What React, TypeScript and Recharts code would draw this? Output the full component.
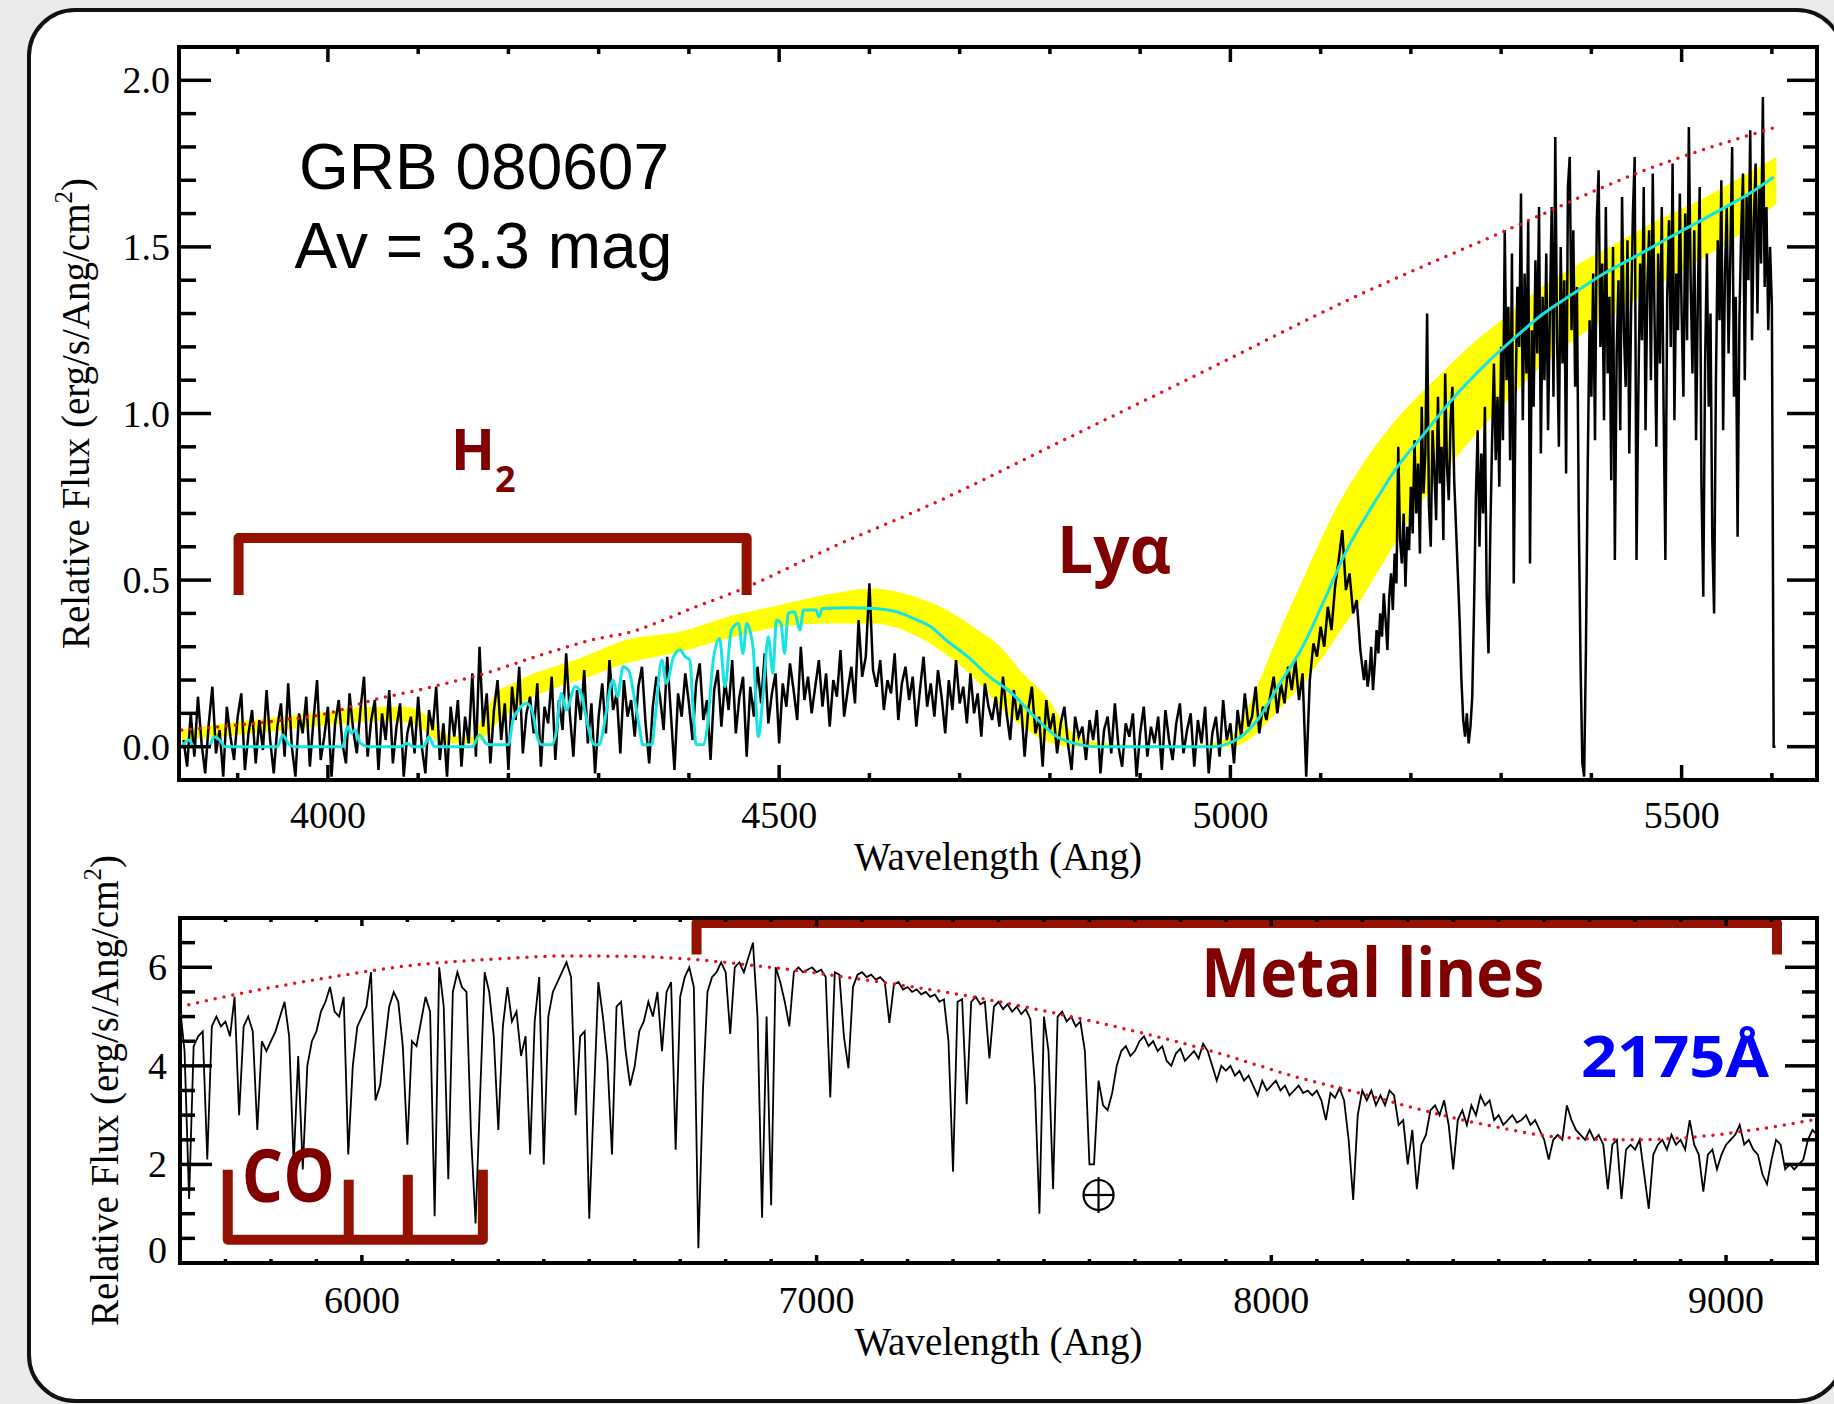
import React from 'react';
import { ComposedChart, Line, Area, XAxis, YAxis, ReferenceDot } from 'recharts';

const SERIF = '"Liberation Serif", "Times New Roman", serif';
const SANS = '"Liberation Sans", Arial, sans-serif';
const BOLD_SANS = '"Open Sans", "Noto Sans", sans-serif';
const DARK_RED = '#800000';
const BRACKET_RED = '#941100';

// ---------- upper panel: observed spectrum around Ly-alpha ----------
// blue part, 4 Å sampling (3840–5148 Å)
const TOP_START = 3840;
const TOP_STEP = 4;
const topFlux = [
  0.02, -0.06, 0.10, -0.03, 0.15, 0.01, -0.08, 0.07, 0.18, -0.02, 0.05, -0.09, 0.12, 0.03, -0.04, 0.09, 0.16, -0.07, 0.04, 0.11, -0.05, 0.08, -0.01, 0.17, 0.02,
  -0.08, 0.06, 0.13, -0.03, 0.19, 0.00, -0.09, 0.10, 0.04, 0.15, -0.06, 0.08, 0.20, -0.04, 0.03, 0.12, -0.09, 0.07, 0.14, 0.01, -0.05, 0.16, 0.05, -0.02, 0.11,
  0.21, -0.03, 0.08, 0.14, -0.07, 0.10, 0.02, 0.17, -0.05, 0.06, 0.13, -0.09, 0.04, 0.09, -0.02, 0.15, 0.00, -0.08, 0.11, 0.05, 0.18, -0.04, 0.07, -0.09, 0.12,
  0.03, 0.14, -0.06, 0.09, 0.01, 0.22, -0.03, 0.30, 0.06, 0.16, -0.05, 0.11, 0.20, 0.02, 0.13, -0.07, 0.18, 0.08, 0.24, -0.02, 0.10, 0.15, 0.04, 0.19, -0.06,
  0.12, 0.07, 0.21, -0.04, 0.14, 0.05, 0.28, 0.10, -0.03, 0.17, 0.08, 0.23, 0.01, 0.13, -0.08, 0.09, 0.19, 0.04, 0.26, 0.11, 0.16, -0.02, 0.20, 0.09, 0.14,
  0.03, 0.18, 0.24, 0.07, -0.05, 0.12, 0.21, 0.15, 0.05, 0.27, 0.10, -0.07, 0.16, 0.09, 0.22, 0.13, 0.02, 0.19, 0.25, 0.08, 0.14, -0.04, 0.17, 0.23, 0.06,
  0.20, 0.11, 0.26, 0.04, 0.15, 0.21, -0.03, 0.18, 0.09, 0.24, 0.13, 0.28, 0.07, 0.16, 0.22, 0.01, 0.19, 0.12, 0.25, 0.17, 0.08, 0.30, 0.14, 0.21, 0.10,
  0.18, 0.26, 0.12, 0.22, 0.06, 0.20, 0.15, 0.29, 0.09, 0.17, 0.24, 0.13, 0.38, 0.21, 0.27, 0.49, 0.23, 0.18, 0.26, 0.11, 0.20, 0.16, 0.28, 0.08, 0.19,
  0.24, 0.14, 0.21, 0.06, 0.17, 0.27, 0.12, 0.19, 0.09, 0.23, 0.15, 0.04, 0.20, 0.11, 0.26, 0.13, 0.18, 0.07, 0.22, 0.10, 0.16, 0.03, 0.19, 0.12, 0.08,
  0.15, 0.06, 0.21, 0.10, 0.02, 0.17, 0.08, 0.13, -0.03, 0.11, 0.18, 0.04, 0.09, -0.06, 0.14, 0.05, 0.10, -0.02, 0.07, 0.12, 0.01, -0.07, 0.09, 0.03, 0.06,
  -0.04, 0.08, 0.02, 0.11, -0.08, 0.05, 0.09, -0.02, 0.13, 0.00, -0.06, 0.07, 0.03, 0.10, -0.09, 0.04, 0.12, -0.03, 0.06, 0.01, 0.09, -0.07, 0.11, 0.02, -0.04,
  0.07, 0.13, -0.02, 0.05, 0.10, -0.06, 0.08, 0.01, 0.12, -0.08, 0.04, 0.09, -0.03, 0.14, 0.02, 0.07, -0.05, 0.11, 0.03, 0.16, 0.06, 0.09, 0.18, 0.04, 0.12,
  0.08, 0.15, 0.21, 0.10, 0.19, 0.13, 0.24, 0.17, 0.26, 0.14, 0.22, -0.09, 0.20, 0.31, 0.27, 0.36, 0.30, 0.42, 0.35, 0.48, 0.56, 0.65, 0.47, 0.52, 0.40,
  0.44, 0.29, 0.20,
];
// red part, 2 Å sampling (5150–5604 Å)
const TOP_FINE_START = 5150;
const TOP_FINE_STEP = 2;
const topFluxFine = [
  0.26, 0.18, 0.22, 0.30, 0.17, 0.25, 0.35, 0.28, 0.40, 0.33, 0.46, 0.38, 0.29, 0.45, 0.52, 0.41, 0.58, 0.49, 0.90, 0.62, 0.55, 0.70, 0.48, 0.66, 0.59,
  0.78, 0.64, 0.92, 0.70, 0.85, 0.58, 1.02, 0.76, 0.88, 1.30, 0.72, 0.60, 0.95, 0.83, 0.68, 1.05, 0.79, 0.90, 0.62, 1.12, 0.84, 0.74, 0.98, 1.08, 0.80,
  0.66, 0.52, 0.38, 0.20, 0.08, 0.03, 0.10, 0.01, 0.06, 0.15, 0.42, 0.75, 0.95, 0.60, 0.88, 0.70, 1.02, 0.45, 0.28, 0.64, 0.92, 1.15, 0.86, 1.05, 0.78,
  1.20, 0.92, 1.55, 1.10, 1.32, 0.86, 1.48, 0.49, 1.05, 1.38, 1.20, 1.66, 0.98, 1.42, 1.12, 1.58, 0.55, 1.25, 1.02, 1.46, 1.18, 1.62, 0.88, 1.35, 1.10,
  1.48, 0.95, 1.30, 1.62, 1.05, 1.83, 1.22, 0.90, 1.50, 1.15, 1.40, 0.82, 1.68, 1.77, 1.25, 1.55, 1.08, 1.38, 0.70, 0.25, -0.05, -0.09, 0.30, 0.85, 1.28,
  1.05, 1.42, 0.92, 1.58, 1.73, 1.20, 1.45, 0.98, 1.62, 1.12, 1.35, 0.80, 1.50, 0.56, 1.18, 1.40, 0.95, 1.65, 1.25, 1.08, 1.52, 0.88, 1.30, 1.60, 1.77,
  0.56, 1.05, 1.45, 1.22, 1.68, 0.95, 1.38, 1.55, 1.10, 1.72, 1.28, 0.90, 1.48, 1.15, 1.62, 1.02, 0.56, 1.35, 1.58, 1.20, 1.75, 0.98, 1.42, 1.25, 1.66,
  1.30, 1.05, 1.60, 1.22, 1.86, 1.40, 1.12, 1.55, 0.92, 1.35, 1.68, 0.78, 0.45, 1.15, 1.48, 1.02, 1.30, 0.62, 0.40, 1.10, 1.52, 1.28, 1.70, 0.95, 1.42,
  1.62, 1.18, 1.48, 1.80, 1.05, 1.35, 0.63, 1.28, 1.55, 1.72, 1.10, 1.65, 1.40, 1.85, 1.22, 1.58, 1.75, 1.30, 1.68, 1.45, 1.95, 1.38, 1.62, 1.25, 1.50,
  1.32, 0.00, 0.00,
];

// H2 + damped Ly-alpha model (cyan)
const modelWave = [
  3838, 3846, 3852, 3868, 3874, 3880, 3886, 3944, 3950, 3956, 3962, 4016, 4022, 4026, 4030, 4036, 4046, 4080, 4088, 4094,
  4106, 4112, 4118, 4160, 4168, 4175, 4180, 4200, 4205, 4211, 4220, 4226, 4233, 4237, 4248, 4252, 4259, 4264, 4274, 4279,
  4286, 4292, 4296, 4301, 4305, 4316, 4321, 4327, 4333, 4340, 4345, 4349, 4359, 4362, 4370, 4375, 4383, 4390, 4396, 4401,
  4405, 4408, 4416, 4420, 4427, 4434, 4440, 4447, 4455, 4460, 4464, 4471, 4477, 4482, 4488, 4493, 4497, 4502, 4506, 4510,
  4517, 4523, 4527, 4541, 4544, 4548, 4580, 4604, 4630, 4649, 4668, 4685, 4709, 4733, 4758, 4783, 4808, 4832, 4850, 4980,
  5006, 5030, 5055, 5080, 5104, 5129, 5159, 5185, 5212, 5245, 5280, 5312, 5347, 5380, 5414, 5448, 5481, 5515, 5549, 5575, 5602,
];
const modelFlux = [
  0.0, 0.02, 0.0, 0.0, 0.03, 0.02, 0.0, 0.0, 0.035, 0.01, 0.0, 0.0, 0.06, 0.04, 0.05, 0.01, 0.0, 0.0, 0.01, 0.0,
  0.0, 0.03, 0.0, 0.0, 0.035, 0.01, 0.006, 0.006, 0.08, 0.11, 0.13, 0.11, 0.02, 0.006, 0.006, 0.03, 0.16, 0.11, 0.18, 0.17,
  0.09, 0.02, 0.006, 0.006, 0.05, 0.20, 0.15, 0.24, 0.23, 0.14, 0.06, 0.006, 0.006, 0.07, 0.26, 0.19, 0.27, 0.29, 0.27, 0.26,
  0.10, 0.006, 0.006, 0.05, 0.26, 0.325, 0.18, 0.35, 0.37, 0.28, 0.37, 0.30, 0.03, 0.15, 0.33, 0.22, 0.38, 0.37, 0.28, 0.40,
  0.405, 0.35, 0.41, 0.41, 0.39, 0.415, 0.417, 0.415, 0.405, 0.385, 0.36, 0.32, 0.27, 0.21, 0.16, 0.09, 0.03, 0.007, 0.0, 0.0,
  0.02, 0.08, 0.19, 0.30, 0.44, 0.59, 0.73, 0.84, 0.93, 1.04, 1.14, 1.22, 1.30, 1.36, 1.42, 1.47, 1.52, 1.57, 1.62, 1.66, 1.71,
];

// model uncertainty envelope (yellow)
const bandWave = [
  3838, 3900, 3950, 4000, 4050, 4085, 4100, 4115, 4128, 4145, 4160, 4170, 4187, 4205, 4224, 4250, 4279, 4330, 4390, 4450,
  4501, 4550, 4604, 4650, 4686, 4720, 4745, 4770, 4793, 4822, 4850, 4900, 4960, 5000, 5020, 5040, 5060, 5080, 5100, 5120,
  5140, 5160, 5180, 5200, 5230, 5260, 5300, 5340, 5380, 5420, 5470, 5520, 5560, 5605,
];
const bandLow = [
  0.02, 0.035, 0.05, 0.065, 0.075, 0.075, 0.06, 0.03, 0.01, 0.01, 0.01, 0.02, 0.07, 0.11, 0.145, 0.175, 0.2, 0.25, 0.285, 0.33,
  0.36, 0.37, 0.37, 0.335, 0.275, 0.195, 0.12, 0.06, 0.02, 0.0, 0.0, 0.0, 0.0, 0.0, 0.02, 0.07, 0.13, 0.19, 0.26, 0.34,
  0.42, 0.51, 0.60, 0.69, 0.80, 0.90, 1.02, 1.13, 1.22, 1.29, 1.38, 1.46, 1.53, 1.63,
];
const bandHigh = [
  0.05, 0.075, 0.09, 0.105, 0.12, 0.12, 0.11, 0.08, 0.04, 0.03, 0.03, 0.08, 0.16, 0.19, 0.215, 0.24, 0.265, 0.32, 0.345, 0.395,
  0.425, 0.455, 0.475, 0.45, 0.41, 0.35, 0.30, 0.22, 0.16, 0.05, 0.015, 0.005, 0.005, 0.03, 0.12, 0.25, 0.38, 0.50, 0.62, 0.73,
  0.82, 0.90, 0.97, 1.03, 1.11, 1.19, 1.28, 1.37, 1.44, 1.50, 1.575, 1.64, 1.70, 1.77,
];

// unabsorbed continuum (red dotted)
const contTopWave = [3838, 3900, 3950, 4000, 4050, 4100, 4131, 4168, 4230, 4300, 4329, 4408, 4456, 4560, 4679, 4800, 4966, 5130, 5306, 5459, 5605];
const contTopFlux = [0.05, 0.065, 0.08, 0.10, 0.14, 0.17, 0.19, 0.215, 0.27, 0.325, 0.34, 0.42, 0.47, 0.60, 0.74, 0.90, 1.12, 1.34, 1.55, 1.73, 1.86];

const h2BracketWave = [3901, 3901, 4464, 4464];
const h2BracketFlux = [0.455, 0.626, 0.626, 0.455];

const topXTicks = [3900, 4000, 4100, 4200, 4300, 4400, 4500, 4600, 4700, 4800, 4900, 5000, 5100, 5200, 5300, 5400, 5500, 5600];
const topXMajor = [4000, 4500, 5000, 5500];
const topYTicks = [0, 0.1, 0.2, 0.3, 0.4, 0.5, 0.6, 0.7, 0.8, 0.9, 1.0, 1.1, 1.2, 1.3, 1.4, 1.5, 1.6, 1.7, 1.8, 1.9, 2.0];
const topYMajor = [0, 0.5, 1.0, 1.5, 2.0];

// ---------- lower panel: red part of the spectrum (10 Å sampling) ----------
const BOT_START = 5600;
const BOT_STEP = 10;
const botFlux = [
  5.2, 4.3, 1.3, 4.4, 4.6, 4.7, 2.1, 4.8, 5.0, 4.8,
  4.9, 4.6, 5.4, 3.0, 4.8, 5.0, 4.7, 2.7, 4.5, 4.3,
  4.5, 4.7, 5.0, 5.3, 4.6, 2.0, 4.2, 1.9, 4.0, 4.5,
  4.7, 5.1, 5.3, 5.6, 5.1, 5.0, 5.4, 2.2, 4.0, 4.8,
  5.0, 5.2, 5.9, 3.3, 3.6, 4.4, 5.2, 5.5, 5.3, 4.4,
  2.4, 4.5, 4.4, 4.9, 5.4, 5.1, 0.95, 6.0, 5.2, 1.7,
  5.5, 5.9, 5.6, 5.5, 2.6, 0.8, 3.4, 5.9, 5.5, 4.6,
  2.7, 4.8, 5.6, 4.9, 5.1, 4.2, 4.6, 2.2, 4.9, 5.8,
  2.0, 5.0, 5.5, 5.7, 5.9, 6.1, 5.8, 3.0, 4.6, 4.7,
  0.9, 3.3, 5.7, 5.0, 4.1, 2.2, 5.2, 5.3, 4.3, 3.6,
  4.0, 4.7, 4.9, 5.3, 5.0, 5.5, 4.3, 5.5, 5.7, 2.3,
  5.4, 5.8, 6.0, 5.6, 0.3, 3.5, 5.5, 5.8, 5.9, 6.1,
  5.9, 4.65, 6.0, 6.1, 5.9, 6.2, 6.5, 5.0, 0.92, 5.0,
  1.17, 6.0, 5.7, 5.3, 4.8, 5.9, 6.0, 5.9, 5.95, 6.0,
  5.9, 5.95, 5.8, 3.36, 5.9, 5.85, 4.6, 3.95, 5.6, 5.85,
  5.9, 5.8, 5.85, 5.75, 5.8, 5.7, 4.87, 5.65, 5.7, 5.55,
  5.6, 5.5, 5.55, 5.45, 5.5, 5.4, 5.45, 5.3, 5.35, 4.5,
  1.85, 5.3, 5.35, 3.22, 5.3, 5.4, 5.25, 5.3, 4.15, 5.2,
  5.3, 5.15, 5.25, 5.1, 5.2, 5.05, 5.15, 4.95, 3.6, 1.0,
  5.0, 4.3, 1.5, 5.0, 5.1, 4.9, 5.0, 4.8, 4.9, 4.3,
  2.0, 2.0, 3.7, 3.2, 3.1, 3.45, 4.0, 4.3, 4.4, 4.2,
  4.3, 4.5, 4.6, 4.4, 4.5, 4.3, 4.4, 4.1, 4.0, 4.25,
  4.35, 4.1, 4.2, 4.3, 4.15, 4.45, 4.3, 4.0, 3.7, 4.0,
  3.9, 4.0, 3.8, 3.9, 3.7, 3.8, 3.6, 3.4, 3.7, 3.5,
  3.6, 3.7, 3.5, 3.6, 3.4, 3.5, 3.6, 3.45, 3.5, 3.4,
  3.5, 3.3, 2.9, 3.45, 3.35, 3.55, 3.3, 2.5, 1.28, 3.0,
  3.5, 3.3, 3.5, 3.2, 3.4, 3.2, 3.5, 3.4, 2.8, 2.9,
  2.0, 2.7, 1.5, 2.4, 2.6, 3.1, 3.2, 3.0, 3.3, 2.8,
  1.9, 2.9, 3.1, 2.8, 3.2, 3.0, 3.4, 3.2, 3.3, 2.9,
  3.0, 2.8, 2.9, 3.0, 2.85, 2.9, 3.0, 2.8, 2.9, 2.7,
  2.5, 2.1, 2.5, 2.6, 2.5, 3.2, 2.9, 2.7, 2.6, 2.5,
  2.7, 2.5, 2.6, 2.4, 1.5, 2.4, 2.5, 1.3, 2.3, 2.4,
  2.3, 2.5, 1.8, 1.1, 2.2, 2.4, 2.5, 2.3, 2.6, 2.4,
  2.5, 2.3, 2.9, 2.4, 2.2, 1.45, 2.2, 2.3, 1.9, 2.2,
  2.4, 2.5, 2.6, 2.8, 2.4, 2.5, 2.3, 2.2, 1.8, 1.6,
  2.1, 2.5, 2.4, 1.9, 2.0, 1.9, 2.0, 2.1, 2.5, 2.7,
  2.6,
];

const contBotWave = [5600, 5750, 5900, 6120, 6300, 6450, 6600, 6680, 6850, 7057, 7343, 7622, 7857, 8061, 8193, 8354, 8500, 8626, 8793, 8934, 9060, 9200];
const contBotFlux = [5.2, 5.5, 5.75, 6.05, 6.17, 6.23, 6.22, 6.19, 6.05, 5.81, 5.40, 4.87, 4.33, 3.76, 3.45, 3.05, 2.75, 2.56, 2.50, 2.56, 2.70, 2.92];

const metalBracketWave = [6736, 6736, 9112, 9112];
const metalBracketFlux = [6.26, 6.90, 6.90, 6.26];
const coBracketWave = [5705, 5705, 6266, 6266];
const coBracketFlux = [1.89, 0.47, 0.47, 1.89];
const coBandWave1 = [5971, 5971];
const coBandFlux1 = [0.47, 1.69];
const coBandWave2 = [6101, 6101];
const coBandFlux2 = [0.47, 1.79];

const botXTicks = [
  5700, 5800, 5900, 6000, 6100, 6200, 6300, 6400, 6500, 6600, 6700, 6800, 6900, 7000, 7100, 7200, 7300, 7400,
  7500, 7600, 7700, 7800, 7900, 8000, 8100, 8200, 8300, 8400, 8500, 8600, 8700, 8800, 8900, 9000, 9100,
];
const botXMajor = [6000, 7000, 8000, 9000];
const botYTicks = [0, 0.5, 1, 1.5, 2, 2.5, 3, 3.5, 4, 4.5, 5, 5.5, 6, 6.5];
const botYMajor = [0, 2, 4, 6];

// ---------- series tables ----------
const pairs = (ws: number[], fs: number[]) => ws.map((w, i) => ({ w, f: fs[i] }));
const topSpectrum = [
  ...topFlux.map((f, i) => ({ w: TOP_START + i * TOP_STEP, f })),
  ...topFluxFine.map((f, i) => ({ w: TOP_FINE_START + i * TOP_FINE_STEP, f })),
];
const botSpectrum = botFlux.map((f, i) => ({ w: BOT_START + i * BOT_STEP, f }));
const modelData = pairs(modelWave, modelFlux);
const bandData = bandWave.map((w, i) => ({ w, range: [bandLow[i], bandHigh[i]] }));
const contTopData = pairs(contTopWave, contTopFlux);
const contBotData = pairs(contBotWave, contBotFlux);

// ---------- axis helpers ----------
type Side = 'bottom' | 'top' | 'left' | 'right';
interface TickSpec {
  side: Side;
  majors: number[];
  majorLen: number;
  minorLen: number;
  label?: (v: number) => string;
  gap?: number;
  nudge?: (v: number) => number;
}

const isMajor = (v: number, majors: number[]) => majors.some((m) => Math.abs(m - v) < 1e-6);

function makeTick(spec: TickSpec) {
  return (props: any) => {
    const x = Number(props.x);
    const y = Number(props.y);
    const v = Number(props.payload?.value);
    const major = isMajor(v, spec.majors);
    const len = major ? spec.majorLen : spec.minorLen;
    let x2 = x;
    let y2 = y;
    if (spec.side === 'bottom') y2 = y - len;
    else if (spec.side === 'top') y2 = y + len;
    else if (spec.side === 'left') x2 = x + len;
    else x2 = x - len;
    let text: React.ReactNode = null;
    if (spec.label && major) {
      const s = spec.label(v);
      const gap = spec.gap ?? 0;
      const nudge = spec.nudge ? spec.nudge(v) : 0;
      if (spec.side === 'bottom') {
        text = (
          <text x={x} y={y + gap} textAnchor="middle" fontFamily={SERIF} fontSize={38} fill="#000">
            {s}
          </text>
        );
      } else if (spec.side === 'left') {
        text = (
          <text x={x - gap} y={y + 13 + nudge} textAnchor="end" fontFamily={SERIF} fontSize={38} fill="#000">
            {s}
          </text>
        );
      }
    }
    return (
      <g>
        <line x1={x} y1={y} x2={x2} y2={y2} stroke="#000" strokeWidth={3.5} />
        {text}
      </g>
    );
  };
}

const frameLine = { stroke: '#000', strokeWidth: 4, strokeLinecap: 'square' as const };

const xTitle = (offset: number, fallback: { x: number; y: number }) => (props: any) => {
  const vb = props?.viewBox;
  const cx = vb && typeof vb.x === 'number' ? vb.x + vb.width / 2 : fallback.x;
  const y = vb && typeof vb.y === 'number' ? vb.y + offset : fallback.y;
  return (
    <text x={cx} y={y} textAnchor="middle" fontFamily={SERIF} fontSize={39} fill="#000">
      Wavelength (Ang)
    </text>
  );
};

const yTitle = (baselineX: number, fallbackCy: number) => (props: any) => {
  const vb = props?.viewBox;
  const cy = vb && typeof vb.y === 'number' ? vb.y + vb.height / 2 : fallbackCy;
  return (
    <text
      x={baselineX}
      y={cy}
      transform={`rotate(-90 ${baselineX} ${cy})`}
      textAnchor="middle"
      fontFamily={SERIF}
      fontSize={39}
      fill="#000"
    >
      Relative Flux (erg/s/Ang/cm
      <tspan fontSize={25} dy={-17}>2</tspan>
      <tspan dy={17}>)</tspan>
    </text>
  );
};

const noteShape = (content: React.ReactNode, style: Record<string, any>) => (p: any) => (
  <text x={p.cx} y={p.cy} {...style}>
    {content}
  </text>
);

const earthShape = (p: any) => (
  <g stroke="#000" strokeWidth={2.2} fill="none">
    <circle cx={p.cx} cy={p.cy} r={15} />
    <line x1={p.cx} y1={p.cy - 18} x2={p.cx} y2={p.cy + 18} />
    <line x1={p.cx - 15} y1={p.cy} x2={p.cx + 15} y2={p.cy} />
  </g>
);

function LyaPanel() {
  const xDomain: [number, number] = [3835, 5650];
  const yDomain: [number, number] = [-0.1, 2.1];
  return (
    <ComposedChart width={1834} height={900} margin={{ top: 17, right: 0, bottom: 20, left: 0 }}>
      <XAxis
        xAxisId="b"
        type="number"
        dataKey="w"
        domain={xDomain}
        allowDataOverflow
        orientation="bottom"
        height={100}
        ticks={topXTicks}
        interval={0}
        tickSize={0}
        tickMargin={0}
        tickLine={false}
        axisLine={frameLine}
        tick={makeTick({ side: 'bottom', majors: topXMajor, majorLen: 15, minorLen: 7, label: (v) => String(v), gap: 48 })}
        label={xTitle(90, { x: 998, y: 870 })}
      />
      <XAxis
        xAxisId="t"
        type="number"
        dataKey="w"
        domain={xDomain}
        allowDataOverflow
        orientation="top"
        height={30}
        ticks={topXTicks}
        interval={0}
        tickSize={0}
        tickMargin={0}
        tickLine={false}
        axisLine={frameLine}
        tick={makeTick({ side: 'top', majors: topXMajor, majorLen: 15, minorLen: 7 })}
      />
      <YAxis
        yAxisId="l"
        type="number"
        domain={yDomain}
        allowDataOverflow
        width={179}
        ticks={topYTicks}
        interval={0}
        tickSize={0}
        tickMargin={0}
        tickLine={false}
        axisLine={frameLine}
        tick={makeTick({ side: 'left', majors: topYMajor, majorLen: 32, minorLen: 17, label: (v) => v.toFixed(1), gap: 9 })}
        label={yTitle(89, 413)}
      />
      <YAxis
        yAxisId="r"
        type="number"
        orientation="right"
        domain={yDomain}
        allowDataOverflow
        width={17}
        ticks={topYTicks}
        interval={0}
        tickSize={0}
        tickMargin={0}
        tickLine={false}
        axisLine={frameLine}
        tick={makeTick({ side: 'right', majors: topYMajor, majorLen: 30, minorLen: 14 })}
      />
      <Area
        xAxisId="b"
        yAxisId="l"
        data={bandData}
        dataKey="range"
        type="monotone"
        stroke="none"
        fill="#ffff00"
        fillOpacity={1}
        dot={false}
        activeDot={false}
        isAnimationActive={false}
      />
      <Line
        xAxisId="b"
        yAxisId="l"
        data={topSpectrum}
        dataKey="f"
        type="linear"
        stroke="#000"
        strokeWidth={2.5}
        dot={false}
        activeDot={false}
        isAnimationActive={false}
      />
      <Line
        xAxisId="b"
        yAxisId="l"
        data={modelData}
        dataKey="f"
        type="monotone"
        stroke="#16e4e4"
        strokeWidth={3}
        dot={false}
        activeDot={false}
        isAnimationActive={false}
      />
      <Line
        xAxisId="b"
        yAxisId="l"
        data={contTopData}
        dataKey="f"
        type="monotone"
        stroke="#e8101a"
        strokeWidth={3.5}
        strokeDasharray="0 9"
        strokeLinecap="round"
        dot={false}
        activeDot={false}
        isAnimationActive={false}
      />
      <Line
        xAxisId="b"
        yAxisId="l"
        data={pairs(h2BracketWave, h2BracketFlux)}
        dataKey="f"
        type="linear"
        stroke={BRACKET_RED}
        strokeWidth={10}
        strokeLinejoin="round"
        dot={false}
        activeDot={false}
        isAnimationActive={false}
      />
      <ReferenceDot
        xAxisId="b"
        yAxisId="l"
        x={3968}
        y={1.674}
        r={1}
        shape={noteShape('GRB 080607', { fontFamily: SANS, fontSize: 64, fill: '#000' })}
      />
      <ReferenceDot
        xAxisId="b"
        yAxisId="l"
        x={3963}
        y={1.437}
        r={1}
        shape={noteShape('Av = 3.3 mag', { fontFamily: SANS, fontSize: 64, fill: '#000' })}
      />
      <ReferenceDot
        xAxisId="b"
        yAxisId="l"
        x={4136}
        y={0.829}
        r={1}
        shape={noteShape(
          <>
            H
            <tspan fontSize={36} dy={22}>
              2
            </tspan>
          </>,
          { fontFamily: BOLD_SANS, fontWeight: 700, fontSize: 58, fill: DARK_RED },
        )}
      />
      <ReferenceDot
        xAxisId="b"
        yAxisId="l"
        x={4808}
        y={0.521}
        r={1}
        shape={noteShape('Lyα', {
          fontFamily: BOLD_SANS,
          fontWeight: 700,
          fontSize: 67,
          fill: DARK_RED,
          textLength: 114,
          lengthAdjust: 'spacingAndGlyphs',
        })}
      />
    </ComposedChart>
  );
}

function RedPanel() {
  const xDomain: [number, number] = [5600, 9200];
  const yDomain: [number, number] = [0, 7];
  return (
    <ComposedChart width={1834} height={604} margin={{ top: 88, right: 0, bottom: 21, left: 0 }}>
      <XAxis
        xAxisId="b"
        type="number"
        dataKey="w"
        domain={xDomain}
        allowDataOverflow
        orientation="bottom"
        height={120}
        ticks={botXTicks}
        interval={0}
        tickSize={0}
        tickMargin={0}
        tickLine={false}
        axisLine={frameLine}
        tick={makeTick({ side: 'bottom', majors: botXMajor, majorLen: 8, minorLen: 4, label: (v) => String(v), gap: 50 })}
        label={xTitle(92, { x: 998, y: 555 })}
      />
      <XAxis
        xAxisId="t"
        type="number"
        dataKey="w"
        domain={xDomain}
        allowDataOverflow
        orientation="top"
        height={30}
        ticks={botXTicks}
        interval={0}
        tickSize={0}
        tickMargin={0}
        tickLine={false}
        axisLine={frameLine}
        tick={makeTick({ side: 'top', majors: botXMajor, majorLen: 8, minorLen: 4 })}
      />
      <YAxis
        yAxisId="l"
        type="number"
        domain={yDomain}
        allowDataOverflow
        width={180}
        ticks={botYTicks}
        interval={0}
        tickSize={0}
        tickMargin={0}
        tickLine={false}
        axisLine={frameLine}
        tick={makeTick({
          side: 'left',
          majors: botYMajor,
          majorLen: 32,
          minorLen: 15,
          label: (v) => String(v),
          gap: 13,
          nudge: (v) => (v === 0 ? -13 : 0),
        })}
        label={yTitle(118, 290)}
      />
      <YAxis
        yAxisId="r"
        type="number"
        orientation="right"
        domain={yDomain}
        allowDataOverflow
        width={17}
        ticks={botYTicks}
        interval={0}
        tickSize={0}
        tickMargin={0}
        tickLine={false}
        axisLine={frameLine}
        tick={makeTick({ side: 'right', majors: botYMajor, majorLen: 32, minorLen: 15 })}
      />
      <Line
        xAxisId="b"
        yAxisId="l"
        data={botSpectrum}
        dataKey="f"
        type="linear"
        stroke="#000"
        strokeWidth={1.8}
        dot={false}
        activeDot={false}
        isAnimationActive={false}
      />
      <Line
        xAxisId="b"
        yAxisId="l"
        data={contBotData}
        dataKey="f"
        type="monotone"
        stroke="#e8101a"
        strokeWidth={3.5}
        strokeDasharray="0 9"
        strokeLinecap="round"
        dot={false}
        activeDot={false}
        isAnimationActive={false}
      />
      {[
        pairs(metalBracketWave, metalBracketFlux),
        pairs(coBracketWave, coBracketFlux),
        pairs(coBandWave1, coBandFlux1),
        pairs(coBandWave2, coBandFlux2),
      ].map((d, i) => (
        <Line
          key={`bracket-${i}`}
          xAxisId="b"
          yAxisId="l"
          data={d}
          dataKey="f"
          type="linear"
          stroke={BRACKET_RED}
          strokeWidth={10}
          strokeLinejoin="round"
          dot={false}
          activeDot={false}
          isAnimationActive={false}
        />
      ))}
      <ReferenceDot
        xAxisId="b"
        yAxisId="l"
        x={7846}
        y={5.4}
        r={1}
        shape={noteShape('Metal lines', {
          fontFamily: BOLD_SANS,
          fontWeight: 700,
          fontSize: 68,
          fill: DARK_RED,
          textLength: 343,
          lengthAdjust: 'spacingAndGlyphs',
        })}
      />
      <ReferenceDot
        xAxisId="b"
        yAxisId="l"
        x={8681}
        y={3.78}
        r={1}
        shape={noteShape('2175Å', {
          fontFamily: BOLD_SANS,
          fontWeight: 700,
          fontSize: 58,
          fill: '#0000ff',
          textLength: 188,
          lengthAdjust: 'spacingAndGlyphs',
        })}
      />
      <ReferenceDot
        xAxisId="b"
        yAxisId="l"
        x={5736}
        y={1.24}
        r={1}
        shape={noteShape('CO', {
          fontFamily: BOLD_SANS,
          fontWeight: 700,
          fontSize: 73,
          fill: DARK_RED,
          textLength: 93,
          lengthAdjust: 'spacingAndGlyphs',
        })}
      />
      <ReferenceDot xAxisId="b" yAxisId="l" x={7620} y={1.38} r={1} shape={earthShape} />
    </ComposedChart>
  );
}

export default function App() {
  return (
    <div
      style={{
        position: 'absolute',
        left: 0,
        top: 0,
        width: 1834,
        height: 1404,
        overflow: 'hidden',
        background: '#e8eaec',
      }}
    >
      <div
        style={{
          position: 'absolute',
          left: 27,
          top: 8,
          width: 1818,
          height: 1395,
          boxSizing: 'border-box',
          background: '#ffffff',
          border: '4px solid #111',
          borderRadius: 48,
        }}
      />
      <div style={{ position: 'absolute', left: 0, top: 0 }}>
        <LyaPanel />
      </div>
      <div style={{ position: 'absolute', left: 0, top: 800 }}>
        <RedPanel />
      </div>
    </div>
  );
}
